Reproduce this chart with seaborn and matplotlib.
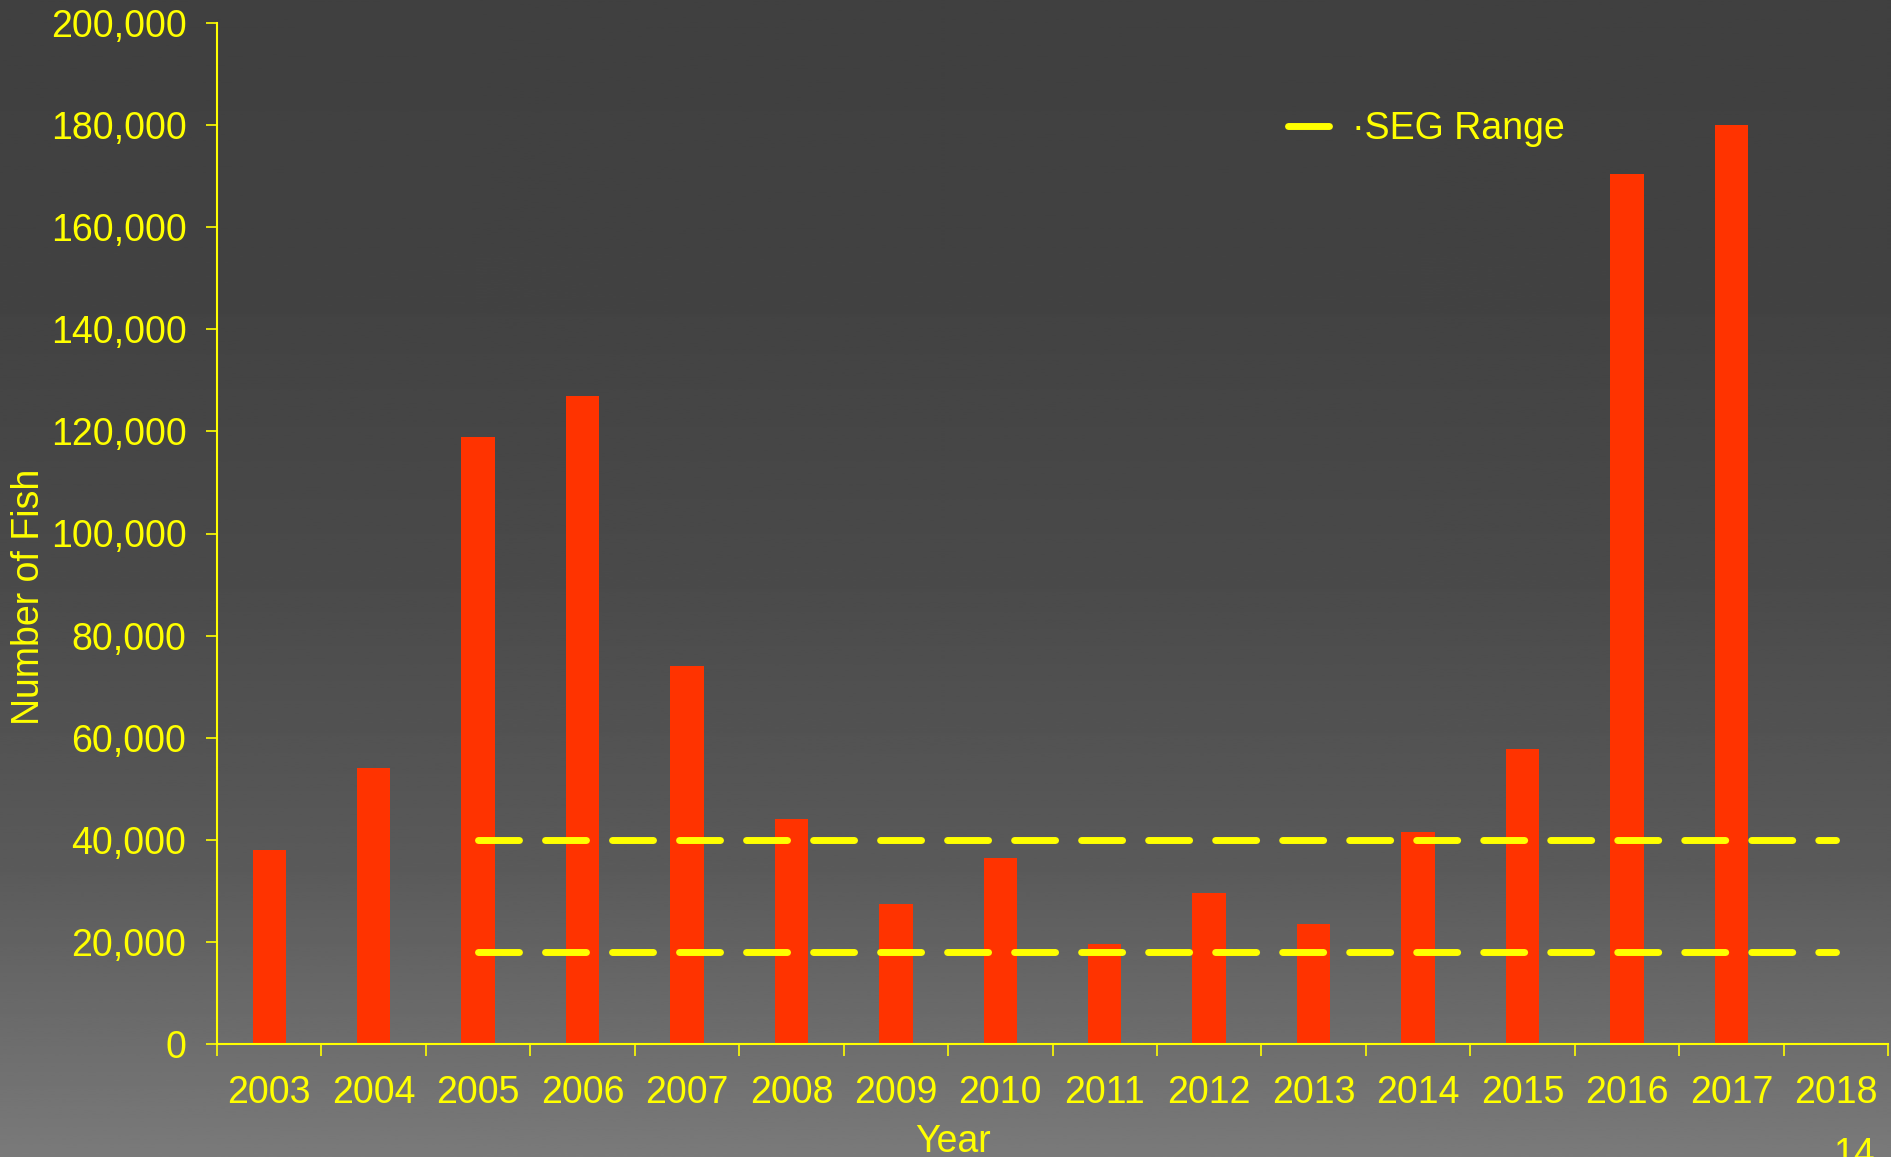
import matplotlib
matplotlib.use('Agg')
import matplotlib.pyplot as plt
import seaborn as sns
import numpy as np
import pandas as pd
from matplotlib.ticker import FuncFormatter, FixedLocator

sns.set_style("white")
plt.rcParams["font.family"] = ["Liberation Sans", "DejaVu Sans"]

# data
years = ["2003", "2004", "2005", "2006", "2007", "2008", "2009", "2010",
         "2011", "2012", "2013", "2014", "2015", "2016", "2017"]
fish = [38000, 54000, 119000, 127000, 74000, 44000, 27500, 36500,
        19500, 29500, 23500, 41500, 57800, 170500, 180000]
year_order = years + ["2018"]
seg_bounds = [40000, 18000]
seg_start, seg_end = "2005", "2018"
y_ticks = list(range(0, 200001, 20000))

YELLOW = "#ffff00"
BAR = "#ff3300"
FS = 27

df = pd.DataFrame({"Year": years, "Fish": fish})

fig = plt.figure(figsize=(18.91, 11.57), dpi=100)

# background gradient, dark at the top, lighter towards the bottom
bg = fig.add_axes([0, 0, 1, 1], zorder=-10)
stops_y = [0.0, 0.25, 0.5, 0.75, 1.0]
stops_v = [64, 66, 74, 90, 122]
rows = np.interp(np.linspace(0, 1, 400), stops_y, stops_v) / 255.0
grad = np.repeat(rows[:, None], 2, axis=1)
bg.imshow(grad, cmap="gray", vmin=0, vmax=1, aspect="auto", extent=[0, 1, 1, 0])
bg.set_axis_off()

ax = fig.add_axes([217 / 1891, 1 - 1044 / 1157, 1671 / 1891, 1021 / 1157])
ax.set_facecolor("none")

sns.barplot(data=df, x="Year", y="Fish", order=year_order, color=BAR,
            width=0.32, saturation=1, linewidth=0, edgecolor=BAR, ax=ax)

x0, x1 = year_order.index(seg_start), year_order.index(seg_end)
for i, b in enumerate(seg_bounds):
    ax.plot([x0, x1], [b, b], color=YELLOW, lw=5, linestyle=(0, (5.9, 3.75)),
            dash_capstyle="round", solid_capstyle="round",
            label="·SEG Range" if i == 0 else None, zorder=3)

ax.set_xlim(-0.5, len(year_order) - 0.5)
ax.set_ylim(0, 200000)
ax.set_yticks(y_ticks)
ax.yaxis.set_major_formatter(FuncFormatter(lambda v, p: f"{int(v):,}"))
ax.xaxis.set_minor_locator(FixedLocator(np.arange(-0.5, len(year_order), 1.0)))

for s in ["top", "right"]:
    ax.spines[s].set_visible(False)
for s in ["left", "bottom"]:
    ax.spines[s].set_color(YELLOW)
    ax.spines[s].set_linewidth(1.5)

ax.tick_params(axis="x", which="major", length=0, pad=22, labelsize=FS, labelcolor=YELLOW)
ax.tick_params(axis="x", which="minor", length=8.5, width=1.2, color=YELLOW, direction="out")
ax.tick_params(axis="y", which="major", length=8, width=1.2, color=YELLOW, direction="out",
               pad=14, labelsize=FS, labelcolor=YELLOW)
ax.tick_params(bottom=True, left=True, which="both")

ax.set_xlabel("Year", fontsize=FS, color=YELLOW)
ax.set_ylabel("Number of Fish", fontsize=FS, color=YELLOW)
ax.xaxis.set_label_coords(0.4405, -0.078)
ax.yaxis.set_label_coords(-0.102, 0.438)

leg = ax.legend(loc="center left", bbox_to_anchor=(0.641, 0.896), frameon=False,
                fontsize=FS, handlelength=1.25, handletextpad=0.45,
                borderpad=0, borderaxespad=0)
for t in leg.get_texts():
    t.set_color(YELLOW)

# slide page number, cut at the bottom edge as in the source
fig.text(1833 / 1891, 1 - 1137 / 1157, "14", fontsize=FS, color=YELLOW, ha="left", va="top")

fig.savefig("out.png", dpi=100)
